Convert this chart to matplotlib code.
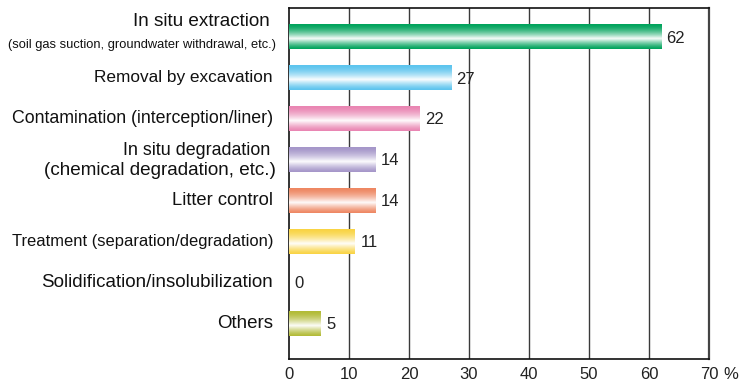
import numpy as np
import matplotlib
matplotlib.use("Agg")
import matplotlib.pyplot as plt
from matplotlib.colors import to_rgb

# === DATA ===
categories = [
    "In situ extraction",
    "Removal by excavation",
    "Contamination (interception/liner)",
    "In situ degradation",
    "Litter control",
    "Treatment (separation/degradation)",
    "Solidification/insolubilization",
    "Others",
]
sublabels = [
    "(soil gas suction, groundwater withdrawal, etc.)",
    "", "",
    "(chemical degradation, etc.)",
    "", "", "", "",
]
values = [62, 27, 21.8, 14.4, 14.4, 11, 0, 5.3]
xticks = [0, 10, 20, 30, 40, 50, 60, 70]

# === STYLE ===
bar_colors = ["#00a35c", "#5cc4ee", "#e985b2", "#a596c9",
              "#ee8762", "#f9d444", "#cccccc", "#b2bb37"]
label_sizes = [13.6, 12.4, 12.8, 12.9, 13.2, 11.9, 13.5, 13.5]
sub_sizes = [9.3, 0, 0, 13.6, 0, 0, 0, 0]

plt.rcParams['font.family'] = ['Liberation Sans', 'DejaVu Sans']

W, H = 743, 383
fig = plt.figure(figsize=(W / 100, H / 100), dpi=100)
ax = fig.add_axes([289 / W, 1 - 359 / H, 420 / W, 351 / H])

BAR_H = 0.61


def gradient(color, n=64):
    c = np.array(to_rgb(color))
    t = np.linspace(0, 1, n)
    w = np.where(t < 0.58, (t / 0.58) ** 1.6, ((1 - t) / 0.42) ** 1.3)
    w = 0.97 * w
    rgb = c[None, :] * (1 - w[:, None]) + w[:, None]
    return rgb[:, None, :]


ys = np.arange(len(categories))
for y, v, col in zip(ys, values, bar_colors):
    if v > 0:
        ax.imshow(gradient(col), extent=(0, v, y + BAR_H / 2, y - BAR_H / 2),
                  origin="upper", aspect="auto", interpolation="bilinear", zorder=3)
    ax.text(v + 0.9, y + 0.03, f"{v:.0f}", ha="left", va="center",
            fontsize=12, color="#222222", zorder=4)

ax.set_xlim(0, 70)
ax.set_ylim(7.88, -0.71)
ax.set_xticks(xticks)
ax.set_xticklabels([str(x) for x in xticks], fontsize=12, color="#222222")
ax.set_yticks([])
ax.tick_params(axis="x", length=0, pad=5.5)
for x in xticks[1:-1]:
    ax.axvline(x, color="#3a3a3a", lw=1.0, zorder=1)
for s in ax.spines.values():
    s.set_color("#111111")
    s.set_linewidth(1.2)
ax.spines["right"].set_color("#444444")
ax.spines["right"].set_linewidth(1.6)

# "%" unit next to the last tick label
ax.annotate("%", xy=(70, 0), xycoords=("data", "axes fraction"),
            xytext=(10, -5.5), textcoords="offset points",
            ha="left", va="top", fontsize=12, color="#222222")

# category labels on the left
def to_fig_y(y, dpx=0):
    yd = ax.transData.transform((0, y))[1] + dpx
    return fig.transFigure.inverted().transform((0, yd))[1]


for y, lab, sub, fs, ss in zip(ys, categories, sublabels, label_sizes, sub_sizes):
    if sub:
        up, down = (16, -8) if y == 0 else (9, -11)
        fig.text(270 / W, to_fig_y(y, up), lab, ha="right", va="center",
                 fontsize=fs, color="#111111")
        fig.text(276 / W, to_fig_y(y, down), sub, ha="right", va="center",
                 fontsize=ss, color="#111111")
    else:
        fig.text(273 / W, to_fig_y(y), lab, ha="right", va="center",
                 fontsize=fs, color="#111111")

fig.savefig("out.png", dpi=100)
